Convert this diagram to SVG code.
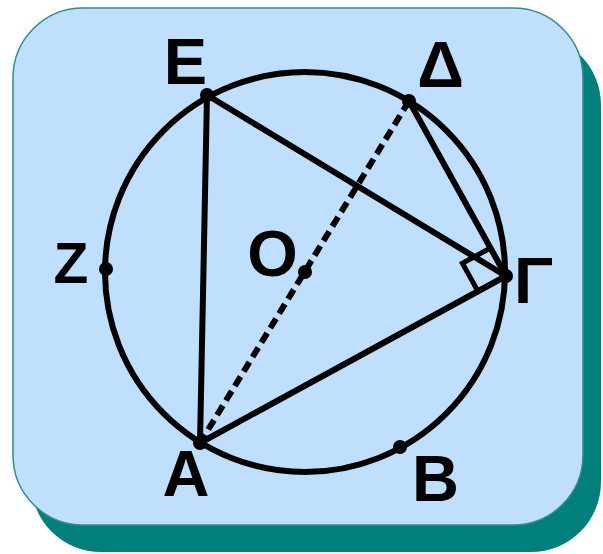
<svg xmlns="http://www.w3.org/2000/svg" width="603" height="554" viewBox="0 0 603 554">
  <style>
    .lbl { font-family: "Liberation Sans", Arial, sans-serif; font-weight: bold; font-size: 65px; fill: #000; text-anchor: middle; }
    .seg { stroke: #000; stroke-width: 6; fill: none; stroke-linecap: round; }
    .dash { stroke: #000; stroke-width: 6; fill: none; stroke-dasharray: 11 6; }
    .dot { fill: #000; }
  </style>
  <g id="background">
    <rect x="31" y="35" width="570" height="517" rx="70" ry="70" fill="#007F7B"/>
    <rect x="13" y="8" width="570" height="517" rx="70" ry="70" fill="#BFDFFD" stroke="#2F8F8A" stroke-width="1.5"/>
  </g>
  <g id="circle">
    <circle cx="305" cy="272" r="200" fill="none" stroke="#000" stroke-width="6"/>
  </g>
  <g id="connectors">
    <line class="seg" x1="207" y1="95" x2="200" y2="443"/>
    <line class="seg" x1="207" y1="95" x2="506" y2="276"/>
    <line class="seg" x1="409" y1="101" x2="506" y2="276"/>
    <line class="seg" x1="200" y1="443" x2="506" y2="276"/>
    <line class="dash" x1="409" y1="101" x2="200" y2="443"/>
    <polyline points="490.5,248 462.4,263.3 477.9,291.3" fill="none" stroke="#000" stroke-width="5" stroke-linejoin="miter"/>
  </g>
  <g id="node-E">
    <circle class="dot" cx="207" cy="95" r="7"/>
    <text class="lbl" x="185.5" y="84">Ε</text>
  </g>
  <g id="node-Delta">
    <circle class="dot" cx="409" cy="101" r="7"/>
    <text class="lbl" x="440.5" y="87">Δ</text>
  </g>
  <g id="node-Z">
    <circle class="dot" cx="106" cy="269" r="7"/>
    <text class="lbl" x="71" y="283" style="font-size:57px">Ζ</text>
  </g>
  <g id="node-O">
    <circle class="dot" cx="305" cy="272" r="7"/>
    <text class="lbl" x="272.5" y="276">Ο</text>
  </g>
  <g id="node-Gamma">
    <circle class="dot" cx="506" cy="276" r="7"/>
    <text class="lbl" x="533.5" y="303">Γ</text>
  </g>
  <g id="node-A">
    <circle class="dot" cx="200" cy="443" r="7"/>
    <text class="lbl" x="186" y="496">Α</text>
  </g>
  <g id="node-B">
    <circle class="dot" cx="400" cy="447" r="7"/>
    <text class="lbl" x="435.5" y="501">Β</text>
  </g>
</svg>
